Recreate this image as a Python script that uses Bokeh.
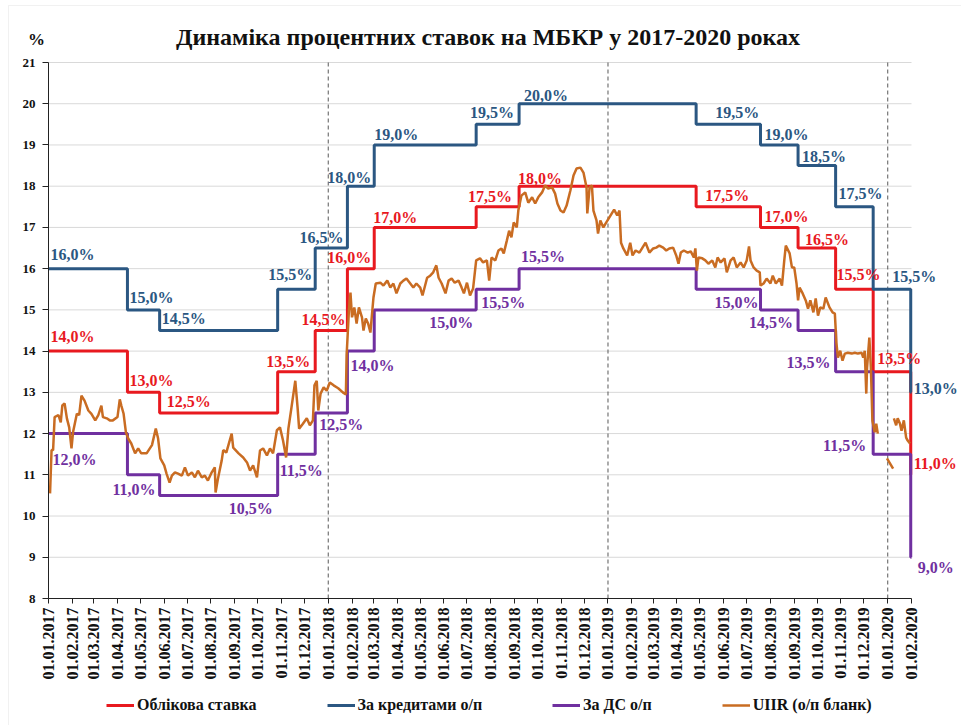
import math
import pandas as pd
from bokeh.plotting import figure
from bokeh.models import (ColumnDataSource, FixedTicker, DatetimeTickFormatter,
                          Legend, LegendItem, Label, LabelSet, BoxAnnotation)
from bokeh.embed import file_html
from bokeh.resources import INLINE
from bokeh.core.properties import value

# ---------------- data ----------------
step_dates = ["2017-01-01", "2017-04-14", "2017-05-26", "2017-10-27", "2017-12-15",
              "2018-01-26", "2018-03-02", "2018-07-13", "2018-09-07", "2019-04-26",
              "2019-07-19", "2019-09-06", "2019-10-25", "2019-12-13", "2020-01-31"]
end_date = "2020-02-01"

discount_rate = [14.0, 13.0, 12.5, 13.5, 14.5, 16.0, 17.0, 17.5, 18.0, 17.5, 17.0, 16.5, 15.5, 13.5, 11.0]
loan_rate = [16.0, 15.0, 14.5, 15.5, 16.5, 18.0, 19.0, 19.5, 20.0, 19.5, 19.0, 18.5, 17.5, 15.5, 13.0]
deposit_rate = [12.0, 11.0, 10.5, 11.5, 12.5, 14.0, 15.0, 15.5, 16.0, 15.5, 15.0, 14.5, 13.5, 11.5, 9.0]

discount_texts = ["14,0%", "13,0%", "12,5%", "13,5%", "14,5%", "16,0%", "17,0%", "17,5%",
                  "18,0%", "17,5%", "17,0%", "16,5%", "15,5%", "13,5%", "11,0%"]
loan_texts = ["16,0%", "15,0%", "14,5%", "15,5%", "16,5%", "18,0%", "19,0%", "19,5%",
              "20,0%", "19,5%", "19,0%", "18,5%", "17,5%", "15,5%", "13,0%"]
deposit_texts = ["12,0%", "11,0%", "10,5%", "11,5%", "12,5%", "14,0%", "15,0%", "15,5%",
                 "15,5%", "15,0%", "14,5%", "13,5%", "11,5%", "9,0%"]

NaN = float("nan")
uiir_dates = [
    "2017-01-03", "2017-01-05", "2017-01-07", "2017-01-09", "2017-01-14", "2017-01-17", "2017-01-19",
    "2017-01-22", "2017-01-25", "2017-01-28", "2017-01-31", "2017-02-02", "2017-02-07", "2017-02-10",
    "2017-02-13", "2017-02-17", "2017-02-22", "2017-02-26", "2017-03-03", "2017-03-07", "2017-03-11",
    "2017-03-13", "2017-03-18", "2017-03-22", "2017-03-26", "2017-04-01", "2017-04-04", "2017-04-06",
    "2017-04-09", "2017-04-12", "2017-04-15", "2017-04-19", "2017-04-24", "2017-04-28", "2017-05-02",
    "2017-05-09", "2017-05-16", "2017-05-21", "2017-05-24", "2017-05-27", "2017-06-01", "2017-06-04",
    "2017-06-08", "2017-06-11", "2017-06-15", "2017-06-19", "2017-06-24", "2017-06-28", "2017-07-02",
    "2017-07-07", "2017-07-11", "2017-07-15", "2017-07-20", "2017-07-24", "2017-07-28", "2017-08-02",
    "2017-08-06", "2017-08-07", "2017-08-10", "2017-08-15", "2017-08-17", "2017-08-21", "2017-08-28",
    "2017-08-30", "2017-09-06", "2017-09-12", "2017-09-17", "2017-09-21", "2017-09-25", "2017-09-30",
    "2017-10-04", "2017-10-08", "2017-10-13", "2017-10-17", "2017-10-21", "2017-10-26", "2017-10-30",
    "2017-11-03", "2017-11-07", "2017-11-10", "2017-11-14", "2017-11-19", "2017-11-22", "2017-11-24",
    "2017-11-29", "2017-12-04", "2017-12-08", "2017-12-12", "2017-12-14", "2017-12-17", "2017-12-19",
    "2017-12-22", "2017-12-26", "2017-12-30",
    "2018-01-03", "2018-01-08", "2018-01-14", "2018-01-20", "2018-01-24", "2018-01-25", "2018-01-28",
    "2018-01-30", "2018-02-01", "2018-02-04", "2018-02-07", "2018-02-10", "2018-02-14", "2018-02-16",
    "2018-02-19", "2018-02-22", "2018-02-25", "2018-03-01", "2018-03-04", "2018-03-10", "2018-03-14",
    "2018-03-19", "2018-03-23", "2018-03-27", "2018-03-31", "2018-04-05", "2018-04-09", "2018-04-13",
    "2018-04-18", "2018-04-22", "2018-04-26", "2018-05-01", "2018-05-04", "2018-05-10", "2018-05-14",
    "2018-05-18", "2018-05-22", "2018-05-25", "2018-05-29", "2018-06-03", "2018-06-07", "2018-06-11",
    "2018-06-15", "2018-06-20", "2018-06-24", "2018-06-27", "2018-07-01", "2018-07-05", "2018-07-09",
    "2018-07-13", "2018-07-18", "2018-07-22", "2018-07-27", "2018-07-30", "2018-08-02", "2018-08-07",
    "2018-08-11", "2018-08-15", "2018-08-18", "2018-08-22", "2018-08-25", "2018-08-28", "2018-08-31",
    "2018-09-04", "2018-09-06", "2018-09-10", "2018-09-15", "2018-09-19", "2018-09-24", "2018-09-28",
    "2018-10-02", "2018-10-07", "2018-10-11", "2018-10-15", "2018-10-20", "2018-10-24", "2018-10-27",
    "2018-10-31", "2018-11-04", "2018-11-08", "2018-11-13", "2018-11-17", "2018-11-21", "2018-11-26",
    "2018-11-30", "2018-12-04", "2018-12-05", "2018-12-08", "2018-12-11", "2018-12-13", "2018-12-17",
    "2018-12-19", "2018-12-22", "2018-12-26", "2018-12-29",
    "2019-01-02", "2019-01-06", "2019-01-09", "2019-01-13", "2019-01-16", "2019-01-18", "2019-01-21",
    "2019-01-26", "2019-01-30", "2019-02-02", "2019-02-06", "2019-02-11", "2019-02-15", "2019-02-19",
    "2019-02-24", "2019-03-01", "2019-03-05", "2019-03-09", "2019-03-14", "2019-03-18", "2019-03-22",
    "2019-03-27", "2019-03-31", "2019-04-03", "2019-04-06", "2019-04-10", "2019-04-15", "2019-04-19",
    "2019-04-23", "2019-04-25", "2019-04-27", "2019-04-29", "2019-05-04", "2019-05-08", "2019-05-12",
    "2019-05-17", "2019-05-21", "2019-05-24", "2019-05-28", "2019-06-02", "2019-06-05", "2019-06-10",
    "2019-06-14", "2019-06-18", "2019-06-23", "2019-06-27", "2019-07-01", "2019-07-04", "2019-07-06",
    "2019-07-10", "2019-07-14", "2019-07-18", "2019-07-19", "2019-07-23", "2019-07-27", "2019-08-01",
    "2019-08-04", "2019-08-08", "2019-08-13", "2019-08-16", "2019-08-19", "2019-08-21", "2019-08-26",
    "2019-08-29", "2019-09-01", "2019-09-04", "2019-09-06", "2019-09-08", "2019-09-12", "2019-09-16",
    "2019-09-19", "2019-09-22", "2019-09-26", "2019-09-29", "2019-10-02", "2019-10-05", "2019-10-09",
    "2019-10-12", "2019-10-17", "2019-10-21", "2019-10-24", "2019-10-26", "2019-10-28", "2019-10-31",
    "2019-11-03", "2019-11-06", "2019-11-10", "2019-11-15", "2019-11-19", "2019-11-23", "2019-11-28",
    "2019-11-30", "2019-12-02", "2019-12-04", "2019-12-05", "2019-12-08", "2019-12-10", "2019-12-12",
    "2019-12-15", "2019-12-17", "2019-12-19", "2019-12-24",
    "2019-12-31", "2020-01-08", "2020-01-08",
    "2020-01-09", "2020-01-12", "2020-01-14", "2020-01-17", "2020-01-19", "2020-01-22", "2020-01-25",
    "2020-01-27", "2020-01-30",
]
uiir_values = [
    10.55, 11.6, 11.6, 12.4, 12.45, 12.27, 12.68,
    12.73, 12.37, 12.15, 11.64, 12.03, 12.48, 12.45,
    12.92, 12.8, 12.56, 12.48, 12.32, 12.45, 12.68,
    12.4, 12.37, 12.32, 12.32, 12.4, 12.83, 12.68,
    12.48, 12.03, 11.88, 11.76, 11.52, 11.64, 11.52,
    11.52, 11.72, 12.12, 11.88, 11.4, 11.23, 11.03,
    10.81, 10.98, 11.06, 11.03, 10.98, 11.18, 10.98,
    11.06, 10.94, 11.1, 10.94, 10.98, 10.86, 11.06,
    11.18, 10.57, 10.9, 11.35, 11.6, 11.54, 12.0,
    11.66, 11.52, 11.42, 11.3, 11.1, 11.23, 10.94,
    11.59, 11.64, 11.47, 11.64, 11.52, 12.08, 12.15,
    11.83, 11.42, 12.12, 12.63, 13.28, 12.63, 12.12,
    12.24, 12.37, 12.2, 12.32, 13.17, 13.28, 12.56,
    12.97, 13.12, 13.04,
    13.24, 13.17, 13.1, 13.0, 12.95, 13.9, 15.0,
    15.42, 14.82, 15.06, 14.67, 15.06, 14.82, 14.5,
    14.79, 14.67, 14.45, 15.3, 15.64, 15.66, 15.59,
    15.71, 15.54, 15.64, 15.4, 15.64, 15.71, 15.76,
    15.64, 15.54, 15.64, 15.54, 15.35, 15.78, 15.83,
    15.91, 16.08, 15.78, 15.64, 15.4, 15.71, 15.76,
    15.66, 15.71, 15.54, 15.4, 15.66, 15.35, 15.52,
    16.2, 16.25, 16.15, 16.2, 15.71, 16.27, 16.2,
    16.44, 16.49, 16.37, 16.68, 16.92, 16.76, 17.12,
    17.0, 17.41, 17.77, 17.85, 17.6, 17.73, 17.58,
    17.73, 17.85, 18.02, 17.94, 17.97, 17.82, 17.58,
    17.41, 17.36, 17.53, 17.9, 18.26, 18.43, 18.45,
    18.33, 17.97, 17.34, 17.97, 18.02, 17.41, 17.17,
    16.85, 17.17, 17.0, 17.1,
    17.22, 17.34, 17.43, 17.29, 17.41, 16.63, 16.49,
    16.32, 16.63, 16.32, 16.44, 16.39, 16.51, 16.63,
    16.39, 16.49, 16.51, 16.56, 16.51, 16.44, 16.49,
    16.51, 16.32, 16.12, 16.39, 16.44, 16.39, 16.42,
    16.27, 16.49, 15.95, 16.27, 16.25, 16.2, 16.12,
    16.2, 16.03, 16.27, 16.15, 16.25, 15.91, 16.2,
    16.27, 16.03, 16.15, 16.03, 16.2, 16.54, 16.2,
    16.03, 15.95, 15.91, 15.59, 15.64, 15.76, 15.64,
    15.83, 15.64, 15.76, 15.59, 16.2, 16.56, 16.37,
    16.03, 16.03, 15.64, 15.23, 15.54, 15.4, 15.23,
    15.03, 15.23, 14.94, 15.28, 14.86, 15.06, 15.03,
    15.3, 15.06, 14.94, 14.91, 14.2, 13.84, 14.01,
    13.77, 13.94, 13.96, 13.94, 13.96, 13.94, 13.96,
    13.84, 14.01, 12.97, 13.6, 14.33, 13.6, 12.31,
    12.03, 12.24, 12.0, NaN,
    11.4, 11.15, NaN,
    12.37, 12.2, 12.37, 12.24, 12.07, 12.32, 11.9,
    11.83, 11.76,
]

series_names = ["Облікова ставка", "За кредитами о/п", "За ДС о/п", "UIIR (о/п бланк)"]
year_marks = ["2018-01-01", "2019-01-01", "2020-01-01"]
y_ticks = list(range(8, 22))
title_text = "Динаміка процентних ставок на МБКР у 2017-2020 роках"
unit_text = "%"

# ---------------- style / layout ----------------
FONT = "Liberation Serif"
RED = "#E8191F"
BLUE = "#2B5782"
PURPLE = "#7030A0"
ORANGE = "#C96C22"
TXT = "#111111"
GRID = "#D9D9D9"

W, H = 961, 725
AX_LEFT, AX_RIGHT, AX_TOP, AX_BOTTOM = 48, 911, 62, 598   # data area in canvas pixels
LEGEND_X, LEGEND_Y = 106, 10                              # legend bottom-left (px from canvas bottom-left)
BORDER_LEFT, BORDER_TOP = 8, 5                            # light chart-area border

# label placement: (segment, anchor start/end, dx px, dy px (up), align)
red_place = [(0, 's', 2, 15, 'left'), (1, 's', 2, 12, 'left'), (2, 's', 7, 11, 'left'),
             (3, 'e', -5, 10, 'right'), (4, 'e', -2, 11, 'right'), (5, 'e', -3, 11, 'right'),
             (6, 's', -1, 10, 'left'), (7, 'e', -7, 10, 'right'), (8, 's', -1, 8, 'left'),
             (9, 's', 9, 11, 'left'), (10, 's', 4, 11, 'left'), (11, 's', 7, 9, 'left'),
             (12, 's', 1, 15, 'left'), (13, 's', 4, 13, 'left'), (14, 's', 3, 11, 'left')]
blue_place = [(0, 's', 2, 14, 'left'), (1, 's', 2, 12, 'left'), (2, 's', 2, 12, 'left'),
              (3, 'e', -3, 15, 'right'), (4, 'e', -4, 11, 'right'), (5, 'e', -3, 9, 'right'),
              (6, 's', 0, 10, 'left'), (7, 'e', -5, 12, 'right'), (8, 's', 5, 8, 'left'),
              (9, 's', 19, 12, 'left'), (10, 's', 4, 10, 'left'), (11, 's', 4, 9, 'left'),
              (12, 's', 3, 13, 'left'), (13, 's', 19, 13, 'left'), (14, 's', 3, 4, 'left')]
purple_place = [(0, 's', 4, -26, 'left'), (1, 'e', -4, -15, 'right'), (2, 'e', -5, -13, 'right'),
                (3, 's', 2, -16, 'left'), (4, 's', 4, -12, 'left'), (5, 's', 3, -14, 'left'),
                (6, 'e', -3, -13, 'right'), (7, 's', 5, -13, 'left'), (8, 's', 2, 12, 'left'),
                (10, 's', -2, 7, 'right'), (11, 's', -5, 8, 'right'), (12, 's', -5, 9, 'right'),
                (13, 's', -7, 9, 'right'), (14, 's', 7, -10, 'left')]

# ---------------- ranges (frame covers whole canvas) ----------------
x_start = pd.Timestamp(step_dates[0])
x_end = pd.Timestamp(end_date)
px_per_day = (AX_RIGHT - AX_LEFT) / ((x_end - x_start).days)
view_x0 = x_start - pd.Timedelta(days=AX_LEFT / px_per_day)
view_x1 = x_end + pd.Timedelta(days=(W - AX_RIGHT) / px_per_day)
y_lo, y_hi = y_ticks[0], y_ticks[-1]
px_per_unit = (AX_BOTTOM - AX_TOP) / (y_hi - y_lo)
view_y0 = y_lo - (H - AX_BOTTOM) / px_per_unit
view_y1 = y_hi + AX_TOP / px_per_unit


def ms(t):
    return pd.Timestamp(t).value / 1e6


def px_to_x(px):
    return view_x0 + pd.Timedelta(days=px / px_per_day)


def px_to_y(py):
    return view_y1 - py / px_per_unit


p = figure(width=W, height=H, x_axis_type="datetime", title=None,
           x_range=(view_x0, view_x1), y_range=(view_y0, view_y1),
           output_backend="svg", toolbar_location=None,
           min_border_left=0, min_border_right=0, min_border_top=0, min_border_bottom=0)
p.outline_line_color = None
p.background_fill_color = "white"
p.border_fill_color = "white"

# light chart-area border (top and left edges visible)
p.add_layout(BoxAnnotation(left=px_to_x(BORDER_LEFT), right=px_to_x(W + 10),
                           top=px_to_y(BORDER_TOP), bottom=px_to_y(H + 10),
                           fill_alpha=0, line_color="#D0D0D0", line_width=1, level="underlay"))

# y axis drawn at 01.01.2017
yax = p.yaxis[0]
yax.fixed_location = ms(x_start)
yax.bounds = (y_lo, y_hi)
yax.ticker = FixedTicker(ticks=y_ticks)
yax.major_label_text_font = FONT
yax.major_label_text_font_size = "13px"
yax.major_label_text_font_style = "bold"
yax.major_label_text_color = TXT
yax.major_tick_out = 6
yax.major_tick_in = 0
yax.minor_tick_line_color = None
yax.axis_line_color = "#222222"
yax.major_tick_line_color = "#222222"
yax.major_label_standoff = 7

# x axis drawn at 8 %
xax = p.xaxis[0]
xax.fixed_location = y_lo
xax.bounds = (ms(x_start), ms(x_end))
month_ticks = pd.date_range(x_start, x_end, freq="MS")
xax.ticker = FixedTicker(ticks=[ms(t) for t in month_ticks])
fmt = "%d.%m.%Y"
xax.formatter = DatetimeTickFormatter(milliseconds=fmt, seconds=fmt, minsec=fmt, minutes=fmt,
                                      hourmin=fmt, hours=fmt, days=fmt, months=fmt, years=fmt)
xax.major_label_orientation = math.pi / 2
xax.major_label_text_font = FONT
xax.major_label_text_font_size = "16px"
xax.major_label_text_font_style = "bold"
xax.major_label_text_color = TXT
xax.major_tick_out = 5
xax.major_tick_in = 0
xax.minor_tick_line_color = None
xax.axis_line_color = "#222222"
xax.major_tick_line_color = "#222222"
xax.major_label_standoff = 4

# horizontal grid limited to the data period
p.xgrid.visible = False
p.ygrid.visible = False
grid_y = y_ticks[1:]
p.segment(x0=[x_start] * len(grid_y), x1=[x_end] * len(grid_y), y0=grid_y, y1=grid_y,
          line_color=GRID, line_width=1, level="underlay")

# year separators
yr = [pd.Timestamp(d) for d in year_marks]
p.segment(x0=yr, x1=yr, y0=[y_lo] * len(yr), y1=[y_hi] * len(yr),
          line_color="#595959", line_dash="4 3", line_width=1, level="underlay")

all_dates = [pd.Timestamp(d) for d in step_dates] + [x_end]


def step_source(vals):
    return ColumnDataSource(dict(x=all_dates, y=list(vals) + [vals[-1]]))


r_red = p.step(x="x", y="y", source=step_source(discount_rate), mode="after",
               line_color=RED, line_width=3)
r_blue = p.step(x="x", y="y", source=step_source(loan_rate), mode="after",
                line_color=BLUE, line_width=3)
r_purple = p.step(x="x", y="y", source=step_source(deposit_rate), mode="after",
                  line_color=PURPLE, line_width=3)
r_orange = p.line(x=[pd.Timestamp(d) for d in uiir_dates], y=uiir_values,
                  line_color=ORANGE, line_width=2.5)


def add_labels(vals, texts, places, color):
    for align in ("left", "right"):
        xs, ys, ts, dxs, dys = [], [], [], [], []
        for t, (seg, anc, dx, dy, al) in zip(texts, places):
            if al != align:
                continue
            xs.append(all_dates[seg] if anc == 's' else all_dates[seg + 1])
            ys.append(vals[seg])
            ts.append(t)
            dxs.append(dx)
            dys.append(dy)
        if not xs:
            continue
        src = ColumnDataSource(dict(x=xs, y=ys, text=ts, dx=dxs, dy=dys))
        ls = LabelSet(x="x", y="y", text="text", x_offset="dx", y_offset="dy", source=src,
                      text_align=align, text_baseline="middle", text_color=color,
                      text_font=value(FONT), text_font_size="16px", text_font_style="bold")
        p.add_layout(ls)


add_labels(discount_rate, discount_texts, red_place, RED)
add_labels(loan_rate, loan_texts, blue_place, BLUE)
add_labels(deposit_rate, deposit_texts, purple_place, PURPLE)

# title and unit sign
mid_x = x_start + (x_end - x_start) / 2
p.add_layout(Label(x=mid_x, y=y_hi, x_offset=8, y_offset=26, text=title_text,
                   text_font=FONT, text_font_size="24px", text_font_style="bold",
                   text_color=TXT, text_align="center", text_baseline="middle"))
p.add_layout(Label(x=x_start, y=y_hi, x_offset=-12, y_offset=23, text=unit_text,
                   text_font=FONT, text_font_size="17px", text_font_style="bold",
                   text_color=TXT, text_align="center", text_baseline="middle"))

legend = Legend(items=[LegendItem(label=series_names[0], renderers=[r_red]),
                       LegendItem(label=series_names[1], renderers=[r_blue]),
                       LegendItem(label=series_names[2], renderers=[r_purple]),
                       LegendItem(label=series_names[3], renderers=[r_orange])],
                orientation="horizontal", location=(LEGEND_X, LEGEND_Y), spacing=70,
                glyph_width=28, glyph_height=20, label_standoff=3, padding=0, margin=0,
                border_line_color=None, background_fill_alpha=0,
                label_text_font=FONT, label_text_font_size="16px",
                label_text_font_style="bold", label_text_color=TXT)
p.add_layout(legend)

open("out.html", "w").write(file_html(p, INLINE))
